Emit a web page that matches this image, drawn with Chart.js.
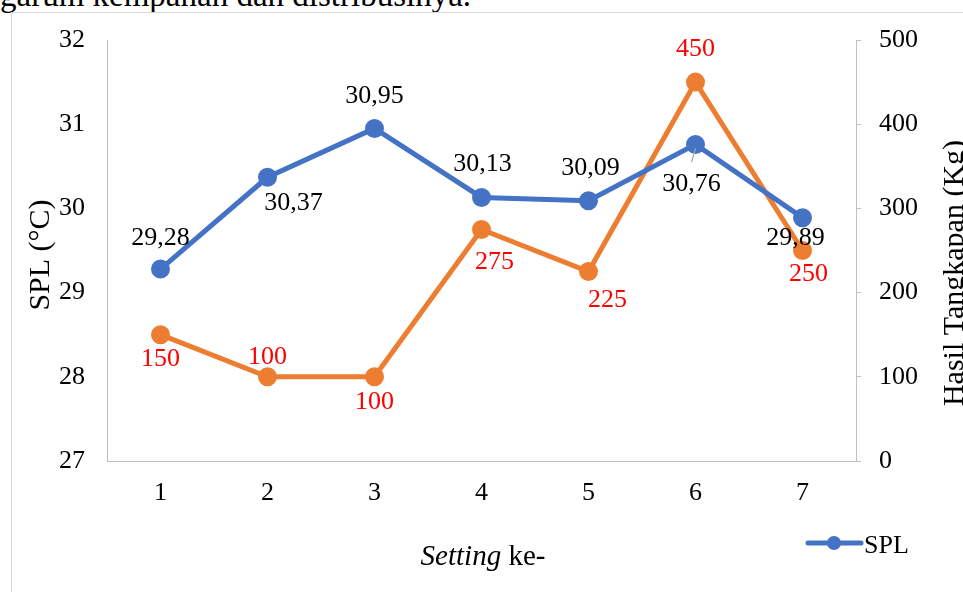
<!DOCTYPE html>
<html>
<head>
<meta charset="utf-8">
<script src="https://cdn.jsdelivr.net/npm/chart.js@4.4.1/dist/chart.umd.min.js"></script>
<style>
  html, body { margin: 0; padding: 0; background: #fff; overflow: hidden; }
  #wrap { position: relative; width: 963px; height: 592px; overflow: hidden; }
  #caption { position: absolute; left: 0; top: -21px; font-family: "Liberation Serif", serif; font-size: 33px; line-height: 1; color: #000; white-space: nowrap; }
  #frame { position: absolute; left: 11px; top: 12px; width: 960px; height: 590px; border-left: 1px solid #d9d9d9; border-top: 1px solid #d9d9d9; }
  canvas { position: absolute; left: 0; top: 0; }
</style>
</head>
<body>
<div id="wrap">
  <div id="caption">garum kempanan dan distribusinya.</div>
  <div id="frame"></div>
  <canvas id="chart" width="963" height="592"></canvas>
</div>
<script>
const settings = ["1", "2", "3", "4", "5", "6", "7"];
const splValues = [29.28, 30.37, 30.95, 30.13, 30.09, 30.76, 29.89];
const catchValues = [150, 100, 100, 275, 225, 450, 250];

// where each value label sits relative to its point (dx, dy)
const splLabelPos = [[0, -31], [26, 26], [0, -32], [1, -33], [2, -33], [-4, 40], [-7, 21]];
const catchLabelPos = [[0, 24], [0, -20], [0, 25], [13, 33], [19, 29], [0, -33], [6, 24]];

const BLUE = "#4472C4";
const ORANGE = "#ED7D31";
const AXIS = "#bfbfbf";
const SERIF = "'Liberation Serif', 'Times New Roman', serif";

Chart.defaults.font.family = SERIF;
Chart.defaults.color = "#000";

const fmt = v => Number.isInteger(v) ? String(v) : v.toFixed(2).replace(".", ",");

const overlay = {
  id: "overlay",
  afterDatasetsDraw(chart) {
    const ctx = chart.ctx;
    const area = chart.chartArea;
    ctx.save();

    // value labels
    const sets = [
      { meta: chart.getDatasetMeta(0), vals: splValues, pos: splLabelPos, color: "#000" },
      { meta: chart.getDatasetMeta(1), vals: catchValues, pos: catchLabelPos, color: "#ff0000" }
    ];
    ctx.font = "26px " + SERIF;
    ctx.textAlign = "center";
    ctx.textBaseline = "middle";
    sets.forEach(s => {
      s.meta.data.forEach((pt, i) => {
        ctx.fillStyle = s.color;
        ctx.fillText(fmt(s.vals[i]), pt.x + s.pos[i][0], pt.y + s.pos[i][1]);
      });
    });

    // leader line for the 30,76 label
    const p6 = chart.getDatasetMeta(0).data[5];
    ctx.strokeStyle = "#a6a6a6";
    ctx.lineWidth = 1.2;
    ctx.beginPath();
    ctx.moveTo(p6.x, p6.y + 4);
    ctx.lineTo(p6.x - 4, p6.y + 18);
    ctx.stroke();

    // axis titles
    ctx.fillStyle = "#000";
    ctx.font = "30px " + SERIF;
    ctx.textBaseline = "alphabetic";
    ctx.save();
    ctx.translate(49, 255);
    ctx.rotate(-Math.PI / 2);
    ctx.fillText("SPL (°C)", 0, 0);
    ctx.restore();

    // right title runs off the edge like the original
    ctx.save();
    ctx.translate(963, 273);
    ctx.rotate(-Math.PI / 2);
    ctx.fillText("Hasil Tangkapan (Kg)", 0, 0);
    ctx.restore();

    // x axis title: "Setting" italic + " ke-"
    const it = "italic 29px " + SERIF;
    const nm = "29px " + SERIF;
    ctx.font = it;
    const w1 = ctx.measureText("Setting").width;
    ctx.font = nm;
    const w2 = ctx.measureText(" ke-").width;
    const x0 = 483 - (w1 + w2) / 2;
    ctx.textAlign = "left";
    ctx.font = it;
    ctx.fillText("Setting", x0, 565);
    ctx.font = nm;
    ctx.fillText(" ke-", x0 + w1, 565);

    // legend (only SPL shows)
    const ds = chart.data.datasets[0];
    ctx.strokeStyle = ds.borderColor;
    ctx.lineWidth = 5;
    ctx.lineCap = "round";
    ctx.beginPath();
    ctx.moveTo(808, 543);
    ctx.lineTo(861, 543);
    ctx.stroke();
    ctx.fillStyle = ds.borderColor;
    ctx.beginPath();
    ctx.arc(834, 543, 7, 0, Math.PI * 2);
    ctx.fill();
    ctx.fillStyle = "#000";
    ctx.font = "26px " + SERIF;
    ctx.fillText(ds.label, 864, 553);

    ctx.restore();
  }
};

new Chart(document.getElementById("chart"), {
  type: "line",
  data: {
    labels: settings,
    datasets: [
      {
        label: "SPL",
        data: splValues,
        yAxisID: "y",
        borderColor: BLUE,
        backgroundColor: BLUE,
        borderWidth: 5,
        pointRadius: 7,
        pointHoverRadius: 7,
        tension: 0
      },
      {
        label: "Hasil Tangkapan",
        data: catchValues,
        yAxisID: "y1",
        borderColor: ORANGE,
        backgroundColor: ORANGE,
        borderWidth: 5,
        pointRadius: 7,
        pointHoverRadius: 7,
        tension: 0
      }
    ]
  },
  options: {
    responsive: false,
    animation: false,
    events: [],
    layout: { padding: { top: 40, left: 0, right: 0, bottom: 0 } },
    plugins: {
      legend: { display: false },
      tooltip: { enabled: false }
    },
    scales: {
      x: {
        offset: true,
        grid: { display: false, drawTicks: false, offset: true },
        border: { display: true, color: AXIS, width: 1 },
        ticks: { color: "#000", font: { size: 26 }, padding: 17 },
        afterFit: s => { s.height = 131; }
      },
      y: {
        position: "left",
        min: 27,
        max: 32,
        ticks: { stepSize: 1, color: "#000", font: { size: 26 }, padding: 22 },
        grid: { display: false, drawTicks: false },
        border: { display: true, color: AXIS, width: 1 },
        afterFit: s => { s.width = 107; }
      },
      y1: {
        position: "right",
        min: 0,
        max: 500,
        ticks: { stepSize: 100, color: "#000", font: { size: 26 }, padding: 18 },
        grid: { drawOnChartArea: false, color: AXIS, tickLength: 5 },
        border: { display: true, color: AXIS, width: 1 },
        afterFit: s => { s.width = 107; }
      }
    }
  },
  plugins: [overlay]
});
</script>
</body>
</html>
